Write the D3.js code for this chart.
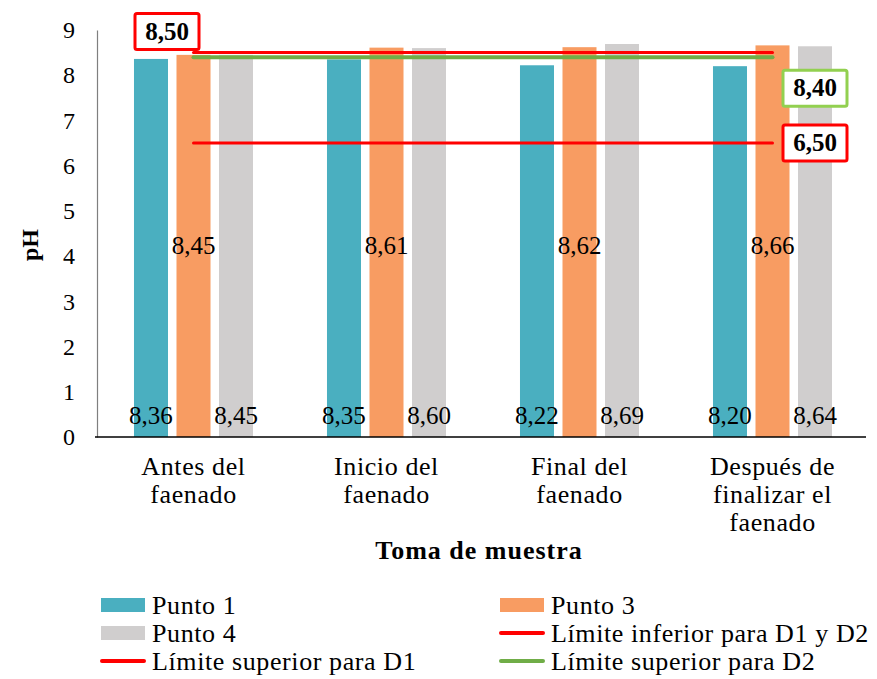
<!DOCTYPE html>
<html>
<head>
<meta charset="utf-8">
<script src="https://cdn.jsdelivr.net/npm/d3@7"></script>
<style>
  body { margin: 0; background: #fff; }
</style>
</head>
<body>
<svg width="877" height="679"></svg>
<script>
// data
var categories = ["Antes del faenado", "Inicio del faenado", "Final del faenado", "Después de finalizar el faenado"];
var categoryLines = [["Antes del", "faenado"], ["Inicio del", "faenado"], ["Final del", "faenado"], ["Después de", "finalizar el", "faenado"]];
var seriesNames = ["Punto 1", "Punto 3", "Punto 4"];
var punto1 = [8.36, 8.35, 8.22, 8.20];
var punto3 = [8.45, 8.61, 8.62, 8.66];
var punto4 = [8.45, 8.60, 8.69, 8.64];
var limiteInferior = 6.50;
var limiteSupD1 = 8.50;
var limiteSupD2 = 8.40;
var yTicks = [0, 1, 2, 3, 4, 5, 6, 7, 8, 9];

var colors = {"Punto 1": "#4aafc0", "Punto 3": "#f89c62", "Punto 4": "#d0cece"};
var red = "#ff0000", green = "#70ad47";
var FONT = "'Liberation Serif', 'Times New Roman', serif";

var svg = d3.select("svg");
var fmt = function(v) { return d3.format(".2f")(v).replace(".", ","); };

var x0 = d3.scaleBand().domain(categories).range([97, 869]);
var x1 = d3.scaleBand().domain(seriesNames).range([0, x0.bandwidth()])
    .paddingInner(0.2).paddingOuter(0.87);
var y = d3.scaleLinear().domain([0, 9]).range([437, 30]);

var rows = categories.map(function(c, i) {
    return {cat: c, vals: [
        {name: "Punto 1", v: punto1[i]},
        {name: "Punto 3", v: punto3[i]},
        {name: "Punto 4", v: punto4[i]}
    ]};
});

// y axis labels
var yAxis = svg.append("g").attr("transform", "translate(97,0)")
    .call(d3.axisLeft(y).tickValues(yTicks).tickSize(0).tickPadding(22).tickFormat(d3.format("d")));
yAxis.select(".domain").attr("stroke", "#7f7f7f").attr("stroke-width", 1.2);
yAxis.selectAll("text").attr("font-size", 24).attr("fill", "#000");

// bars
var groups = svg.append("g").selectAll("g").data(rows).enter().append("g")
    .attr("transform", function(d) { return "translate(" + x0(d.cat) + ",0)"; });
groups.selectAll("rect").data(function(d) { return d.vals; }).enter().append("rect")
    .attr("x", function(d) { return x1(d.name); })
    .attr("width", x1.bandwidth())
    .attr("y", function(d) { return y(d.v); })
    .attr("height", function(d) { return y(0) - y(d.v); })
    .attr("fill", function(d) { return colors[d.name]; });

// x axis
var xAxis = svg.append("g").attr("transform", "translate(0,437)")
    .call(d3.axisBottom(x0).tickSize(0).tickFormat(""));
xAxis.select(".domain").attr("stroke", "#000").attr("stroke-width", 1.5).attr("d", "M95,0H866");

svg.append("g").selectAll("text").data(categories).enter().append("text")
    .attr("text-anchor", "middle")
    .attr("font-size", 26)
    .attr("letter-spacing", 0.6)
    .attr("x", function(d) { return x0(d) + x0.bandwidth() / 2; })
    .attr("y", 475)
    .each(function(d, i) {
        var t = d3.select(this);
        categoryLines[i].forEach(function(l, j) {
            t.append("tspan").attr("x", x0(d) + x0.bandwidth() / 2).attr("dy", j ? 28 : 0).text(l);
        });
    });

// value labels
groups.selectAll("text.val").data(function(d) { return d.vals; }).enter().append("text")
    .attr("class", "val")
    .attr("text-anchor", "middle")
    .attr("font-size", 25)
    .attr("x", function(d) { return x1(d.name) + x1.bandwidth() / 2; })
    .attr("y", function(d) { return d.name === "Punto 3" ? 254 : 424; })
    .text(function(d) { return fmt(d.v); });

// limit lines
var xStart = x0(categories[0]) + x0.bandwidth() / 2;
var xEnd = x0(categories[categories.length - 1]) + x0.bandwidth() / 2;
var limits = [
    {v: limiteSupD2, c: green, w: 4},
    {v: limiteSupD1, c: red, w: 3},
    {v: limiteInferior, c: red, w: 3}
];
svg.append("g").selectAll("line").data(limits).enter().append("line")
    .attr("x1", xStart).attr("x2", xEnd)
    .attr("y1", function(d) { return y(d.v); })
    .attr("y2", function(d) { return y(d.v); })
    .attr("stroke", function(d) { return d.c; })
    .attr("stroke-width", function(d) { return d.w; })
    .attr("stroke-linecap", "round");

// boxed limit labels
var boxes = [
    {v: limiteSupD1, c: red, cx: 167, cy: y(limiteSupD1) - 21},
    {v: limiteSupD2, c: "#92d050", cx: 815, cy: y(limiteSupD2) + 31},
    {v: limiteInferior, c: red, cx: 815, cy: y(limiteInferior)}
];
var bx = svg.append("g").selectAll("g").data(boxes).enter().append("g");
bx.append("rect")
    .attr("x", function(d) { return d.cx - 32; })
    .attr("y", function(d) { return d.cy - 18; })
    .attr("width", 64).attr("height", 36).attr("rx", 2)
    .attr("fill", "#fff")
    .attr("stroke", function(d) { return d.c; })
    .attr("stroke-width", 3);
bx.append("text")
    .attr("x", function(d) { return d.cx; })
    .attr("y", function(d) { return d.cy + 8; })
    .attr("text-anchor", "middle")
    .attr("font-size", 25).attr("font-weight", "bold")
    .text(function(d) { return fmt(d.v); });

// axis titles
svg.append("text").attr("transform", "translate(38,245) rotate(-90)")
    .attr("text-anchor", "middle").attr("font-size", 24).attr("font-weight", "bold").text("pH");
svg.append("text").attr("x", 479).attr("y", 559)
    .attr("text-anchor", "middle").attr("font-size", 26).attr("font-weight", "bold")
    .attr("letter-spacing", 1).text("Toma de muestra");

// legend
var legendItems = [
    {label: "Punto 1", type: "rect", c: colors["Punto 1"], col: 0, row: 0},
    {label: "Punto 3", type: "rect", c: colors["Punto 3"], col: 1, row: 0},
    {label: "Punto 4", type: "rect", c: colors["Punto 4"], col: 0, row: 1},
    {label: "Límite inferior para D1 y D2", type: "line", c: red, col: 1, row: 1},
    {label: "Límite superior para D1", type: "line", c: red, col: 0, row: 2},
    {label: "Límite superior para D2", type: "line", c: green, col: 1, row: 2}
];
var lg = svg.append("g").selectAll("g").data(legendItems).enter().append("g")
    .attr("transform", function(d) { return "translate(" + (d.col ? 500 : 101) + "," + (605 + d.row * 28) + ")"; });
lg.filter(function(d) { return d.type === "rect"; }).append("rect")
    .attr("x", 0).attr("y", -7).attr("width", 44).attr("height", 14)
    .attr("fill", function(d) { return d.c; });
lg.filter(function(d) { return d.type === "line"; }).append("line")
    .attr("x1", 1).attr("x2", 43).attr("y1", 0).attr("y2", 0)
    .attr("stroke", function(d) { return d.c; }).attr("stroke-width", 4).attr("stroke-linecap", "round");
lg.append("text").attr("x", 51).attr("y", 9).attr("font-size", 26)
    .attr("letter-spacing", 0.6).text(function(d) { return d.label; });

svg.selectAll("text").style("font-family", FONT).style("fill", "#000");
</script>
</body>
</html>
